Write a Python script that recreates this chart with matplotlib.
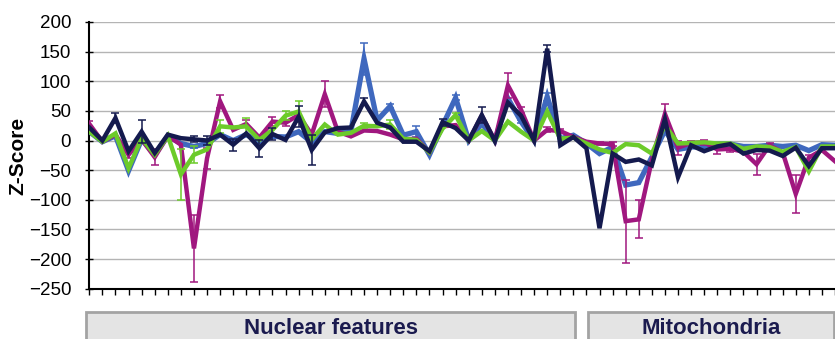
import numpy as np
import matplotlib
matplotlib.use("Agg")
import matplotlib.pyplot as plt
from matplotlib.patches import Rectangle

plt.rcParams['font.family'] = ['Liberation Sans', 'DejaVu Sans']

# z-scores per feature (58 features, chart is cropped at the right)
magenta = [28, -2, 10, -24, 2, -28, 8, -7, -182, -30, 66, 18, 28, 5, 32, 30, 43, 10, 78, 15,
           7, 17, 16, 10, 2, 3, -20, 24, 26, 0, 42, 0, 93, 52, 0, 18, 16, 6, -2, -5,
           -6, -136, -133, -33, 45, -12, -4, -3, -15, -14, -19, -40, -8, -20, -90, -29, -16, -35]
blue = [15, -2, 8, -51, 2, -24, 8, -5, -10, -5, 10, 0, 10, -2, 7, 6, 15, -3, 15, 12,
        16, 138, 34, 58, 9, 15, -24, 25, 72, 0, 29, 0, 71, 32, 0, 74, 3, 9, -5, -22,
        -11, -75, -71, -28, 17, -15, -11, -10, -6, -6, -10, -10, -8, -10, -8, -17, -7, -8]
green = [15, -2, 12, -47, 4, -24, 8, -57, -24, -15, 24, 22, 24, 1, 18, 42, 49, 2, 27, 10,
         13, 25, 24, 27, 3, 1, -20, 20, 43, 0, 16, 0, 32, 15, 0, 49, 3, 5, -5, -15,
         -21, -6, -8, -22, 26, -5, -4, -3, -5, -5, -14, -10, -11, -19, -11, -52, -10, -10]
navy = [22, 0, 38, -18, 15, -21, 10, 4, 2, 0, 10, -7, 12, -13, 11, 1, 40, -16, 14, 21,
        22, 66, 30, 22, -2, -2, -18, 31, 21, 0, 43, -1, 64, 42, 0, 155, -8, 6, -13, -148,
        -22, -36, -32, -42, 36, -62, -8, -18, -10, -6, -22, -16, -17, -26, -12, -43, -13, -13]

# error bars (0 = none visible)
magenta_err = [5, 0, 0, 6, 0, 14, 0, 0, 57, 18, 11, 0, 6, 0, 8, 5, 0, 0, 22, 0,
               0, 0, 0, 0, 0, 0, 0, 0, 0, 0, 0, 0, 21, 5, 0, 4, 3, 0, 0, 2,
               3, 70, 32, 0, 16, 12, 4, 4, 8, 6, 0, 18, 3, 0, 32, 5, 0, 0]
blue_err = [0, 0, 0, 0, 0, 0, 0, 0, 3, 0, 0, 0, 0, 0, 0, 0, 0, 0, 0, 0,
            0, 27, 0, 3, 0, 9, 0, 0, 4, 0, 0, 0, 0, 3, 0, 7, 0, 0, 0, 0,
            0, 0, 0, 0, 0, 0, 0, 0, 0, 0, 0, 0, 0, 0, 0, 0, 0, 0]
green_err = [0, 0, 0, 0, 0, 0, 0, 43, 14, 0, 11, 0, 14, 0, 0, 8, 18, 0, 0, 0,
             0, 4, 0, 7, 0, 0, 0, 0, 4, 0, 0, 0, 0, 0, 0, 0, 0, 0, 0, 0,
             0, 0, 0, 0, 0, 0, 0, 0, 0, 0, 0, 0, 0, 0, 0, 0, 0, 0]
navy_err = [0, 0, 8, 0, 19, 0, 0, 0, 5, 8, 0, 10, 0, 14, 10, 0, 18, 26, 0, 0,
            0, 6, 0, 0, 0, 0, 0, 6, 0, 0, 13, 0, 0, 0, 0, 6, 0, 0, 0, 0,
            0, 0, 0, 0, 0, 0, 0, 0, 0, 0, 0, 0, 0, 0, 0, 0, 0, 0]

groups = ["Nuclear features", "Mitochondria"]

x = np.arange(len(navy))

fig = plt.figure(figsize=(8.35, 3.39), dpi=100)
W, H = 835.0, 339.0
ax = fig.add_axes([89.3 / W, 1 - 288.7 / H, (835 - 89.3) / W, (288.7 - 22) / H])

series = [
    (blue, blue_err, '#3F68BE', 3.8),
    (magenta, magenta_err, '#A0177F', 3.2),
    (green, green_err, '#6CCB2A', 3.2),
    (navy, navy_err, '#141A4E', 3.2),
]
for k, (vals, err, col, lw) in enumerate(series):
    ax.plot(x, vals, color=col, lw=lw, zorder=3 + k, solid_joinstyle='miter')
    e = np.array(err, dtype=float)
    m = e > 0
    ax.errorbar(x[m], np.array(vals)[m], yerr=e[m], fmt='none', ecolor=col,
                elinewidth=1.1, capsize=3, capthick=1.1, zorder=3 + k)

ax.set_xlim(0, 56.8)
ax.set_ylim(-250, 200)
ax.set_yticks(np.arange(-250, 201, 50))
ax.set_xticks(x)
ax.set_xticklabels([])
ax.yaxis.grid(True, color='#B4B4B4', lw=1)
ax.set_axisbelow(True)
for s in ['top', 'right']:
    ax.spines[s].set_visible(False)
for s in ['left', 'bottom']:
    ax.spines[s].set_linewidth(1.5)
    ax.spines[s].set_color('black')
ax.tick_params(axis='y', direction='inout', length=6, width=1, labelsize=13.5, pad=10)
ax.tick_params(axis='x', direction='out', length=4, width=1)

fig.text(17.5 / W, 1 - 156 / H, 'Z-Score', rotation=90, ha='center', va='center',
         fontsize=15, fontweight='bold')

# category boxes under the axis
boxes = [(86, 575), (588, 834)]
for (x0, x1), name in zip(boxes, groups):
    r = Rectangle((x0 / W, 1 - 350 / H), (x1 - x0) / W, (350 - 312.5) / H,
                  transform=fig.transFigure, facecolor='#E4E4E4', edgecolor='#A3A3A3',
                  lw=2, clip_on=False)
    fig.patches.append(r)
    fig.text((x0 + x1) / 2 / W, 1 - 334 / H, name, ha='center', va='baseline',
             fontsize=16, fontweight='bold', color='#1B1B4F')

fig.savefig('out.png', dpi=100)
